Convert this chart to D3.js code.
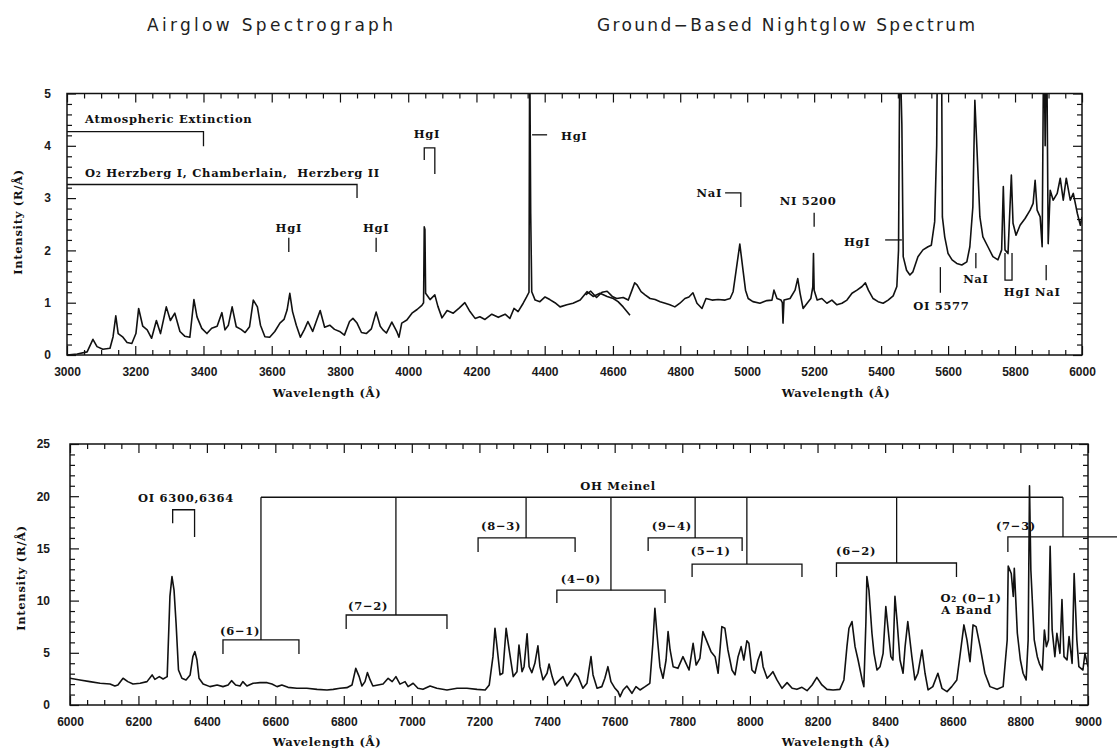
<!DOCTYPE html>
<html>
<head>
<meta charset="utf-8">
<script src="https://cdn.jsdelivr.net/npm/d3@7"></script>
<style>
  html, body { margin: 0; padding: 0; background: #fff; }
  svg { display: block; }
  .tick text { font-family: "Liberation Sans", Arial, sans-serif; font-weight: 700; font-size: 12px; fill: #1a1a1a; }
  .tick line { stroke: #111; stroke-width: 1.2; }
  .lbl { font-family: "DejaVu Serif", serif; font-weight: 700; font-size: 11.5px; letter-spacing: 0.7px; fill: #111; white-space: pre; }
  .title { font-family: "DejaVu Sans", sans-serif; font-size: 17px; fill: #222; }
</style>
</head>
<body>
<script>
// ---------- Spectra: [wavelength (Å), intensity (R/Å)] ----------
// Airglow spectrograph, 3000–4650 Å
const airglowSpectrum = [
  [3000,0.00],[3030,0.02],[3059,0.06],[3076,0.30],[3088,0.16],[3105,0.11],[3126,0.13],[3135,0.35],[3143,0.75],[3150,0.41],
  [3164,0.34],[3176,0.24],[3190,0.22],[3202,0.41],[3210,0.89],[3222,0.55],[3235,0.48],[3248,0.32],[3262,0.66],[3274,0.41],
  [3291,0.92],[3303,0.66],[3316,0.80],[3331,0.45],[3345,0.36],[3360,0.34],[3372,1.06],[3381,0.73],[3395,0.51],[3410,0.41],
  [3424,0.51],[3440,0.55],[3454,0.81],[3463,0.48],[3473,0.57],[3484,0.92],[3496,0.54],[3510,0.49],[3522,0.43],[3535,0.54],
  [3546,1.05],[3558,0.92],[3567,0.57],[3580,0.35],[3594,0.34],[3609,0.45],[3624,0.61],[3636,0.68],[3645,0.86],[3653,1.18],
  [3661,0.83],[3672,0.57],[3684,0.34],[3696,0.49],[3706,0.64],[3720,0.45],[3732,0.67],[3742,0.85],[3755,0.53],[3770,0.57],
  [3784,0.49],[3799,0.45],[3813,0.38],[3828,0.64],[3838,0.70],[3850,0.61],[3863,0.43],[3877,0.41],[3892,0.50],[3906,0.82],
  [3918,0.55],[3926,0.48],[3936,0.42],[3952,0.63],[3967,0.44],[3973,0.34],[3981,0.61],[3996,0.67],[4011,0.80],[4026,0.87],
  [4040,0.95],[4045,1.00],[4047,2.45],[4049,2.40],[4051,1.18],[4064,1.06],[4078,1.15],[4087,0.93],[4099,0.71],[4114,0.85],
  [4132,0.80],[4150,0.90],[4166,1.00],[4181,0.83],[4196,0.70],[4210,0.73],[4225,0.68],[4245,0.78],[4264,0.72],[4284,0.78],
  [4298,0.70],[4310,0.89],[4322,0.83],[4337,0.99],[4347,1.11],[4354,1.20],[4356,6.00],[4359,2.70],[4362,1.21],[4372,1.05],
  [4386,1.02],[4401,1.11],[4415,1.06],[4430,1.00],[4445,0.92],[4465,0.96],[4483,0.99],[4504,1.05],[4524,1.21],[4542,1.12],
  [4562,1.18],[4583,1.12],[4601,1.08],[4615,1.02],[4630,0.92],[4650,0.76]
];

// Ground-based nightglow, 4520–6000 Å
const groundSpectrum = [
  [4520,1.15],[4535,1.22],[4552,1.10],[4568,1.20],[4583,1.22],[4598,1.12],[4611,1.08],[4630,1.10],[4645,1.05],[4656,1.24],
  [4664,1.38],[4671,1.34],[4683,1.21],[4695,1.15],[4710,1.08],[4725,1.06],[4740,1.02],[4755,0.99],[4769,0.96],[4784,0.92],
  [4799,0.99],[4814,1.08],[4826,1.11],[4838,1.19],[4850,0.99],[4865,0.89],[4877,1.08],[4895,1.05],[4913,1.06],[4934,1.05],
  [4949,1.08],[4958,1.21],[4967,1.62],[4978,2.12],[4988,1.60],[4995,1.24],[5003,1.08],[5017,1.02],[5038,0.99],[5059,1.04],
  [5074,1.05],[5080,1.24],[5089,1.08],[5101,1.05],[5105,1.00],[5107,0.61],[5110,1.05],[5128,1.08],[5143,1.24],[5151,1.46],
  [5158,1.18],[5167,0.89],[5179,0.99],[5190,1.08],[5196,1.30],[5198,1.94],[5200,1.24],[5209,1.05],[5223,1.08],[5238,0.99],
  [5253,1.05],[5268,0.96],[5283,0.99],[5298,1.05],[5313,1.18],[5328,1.24],[5343,1.31],[5353,1.38],[5362,1.24],[5376,1.08],
  [5391,1.02],[5406,0.99],[5421,1.05],[5436,1.13],[5447,1.31],[5452,2.00],[5456,6.00],[5462,4.40],[5466,1.88],[5476,1.62],
  [5486,1.53],[5495,1.59],[5510,1.88],[5525,2.01],[5540,2.07],[5550,2.10],[5560,2.55],[5566,4.00],[5569,6.50],[5580,6.50],
  [5583,2.64],[5590,2.26],[5600,1.94],[5612,1.82],[5626,1.75],[5641,1.72],[5656,1.78],[5665,2.07],[5674,2.83],[5680,4.87],
  [5686,3.98],[5695,2.64],[5704,2.26],[5719,2.07],[5734,1.88],[5749,1.82],[5760,2.01],[5765,3.22],[5770,2.01],[5779,1.94],
  [5789,3.44],[5794,2.52],[5803,2.29],[5815,2.48],[5830,2.61],[5845,2.77],[5854,2.90],[5860,3.34],[5866,2.77],[5875,2.64],
  [5881,2.07],[5886,6.50],[5890,4.00],[5894,6.50],[5899,2.13],[5905,3.15],[5914,2.96],[5926,3.09],[5935,3.38],[5944,2.96],
  [5953,3.38],[5965,2.96],[5974,3.09],[5986,2.71],[5995,2.48],[6000,2.64]
];

// Red / near-infrared nightglow, 6000–9000 Å
const redSpectrum = [
  [6000,2.56],[6029,2.40],[6058,2.24],[6088,2.08],[6117,2.01],[6131,1.82],[6140,1.92],[6155,2.56],[6169,2.24],[6184,2.01],
  [6205,2.08],[6225,2.24],[6240,2.88],[6248,2.46],[6261,2.72],[6272,2.49],[6284,2.72],[6292,10.4],[6298,12.3],[6304,11.0],
  [6310,7.8],[6317,3.35],[6327,2.56],[6339,2.40],[6351,2.88],[6359,4.63],[6365,5.11],[6371,4.31],[6377,2.56],[6389,2.01],
  [6409,1.76],[6430,1.92],[6447,1.76],[6462,1.92],[6472,2.33],[6484,1.92],[6497,1.82],[6505,2.24],[6517,1.82],[6535,2.08],
  [6555,2.14],[6576,2.14],[6590,2.01],[6605,1.76],[6619,1.92],[6637,1.69],[6663,1.60],[6692,1.60],[6722,1.50],[6751,1.44],
  [6769,1.50],[6789,1.60],[6809,1.66],[6824,1.92],[6835,3.51],[6845,2.72],[6853,1.82],[6862,2.24],[6869,3.10],[6877,2.40],
  [6885,1.82],[6900,1.92],[6915,2.01],[6930,2.56],[6942,2.24],[6953,2.72],[6965,2.00],[6980,2.24],[6989,1.76],[7004,2.08],
  [7018,1.60],[7033,1.50],[7054,1.82],[7074,1.60],[7104,1.44],[7134,1.60],[7163,1.60],[7193,1.50],[7217,1.44],[7229,1.92],
  [7240,4.63],[7246,7.35],[7252,5.59],[7261,2.88],[7269,3.04],[7279,7.35],[7288,5.27],[7300,2.72],[7311,3.19],[7317,5.75],
  [7326,3.19],[7332,3.67],[7341,6.81],[7347,3.67],[7355,3.10],[7364,3.99],[7373,5.66],[7379,3.67],[7388,2.40],[7400,3.04],
  [7406,3.93],[7415,2.72],[7423,1.92],[7432,2.24],[7447,2.72],[7459,1.82],[7471,2.40],[7483,3.04],[7492,2.72],[7506,1.60],
  [7518,2.08],[7530,4.63],[7536,2.88],[7548,1.60],[7562,1.76],[7571,2.56],[7580,3.67],[7589,2.24],[7601,1.60],[7610,1.28],
  [7616,0.80],[7625,1.44],[7636,1.82],[7651,1.12],[7663,1.76],[7675,1.44],[7690,1.76],[7704,2.08],[7713,5.91],[7719,9.27],
  [7725,6.87],[7734,3.67],[7743,2.56],[7752,4.31],[7758,7.03],[7764,5.27],[7773,3.67],[7787,3.51],[7802,4.63],[7811,3.99],
  [7820,3.35],[7832,5.91],[7841,3.83],[7852,4.47],[7861,7.03],[7873,6.07],[7885,5.11],[7897,4.63],[7906,3.04],[7917,7.51],
  [7926,7.35],[7935,5.27],[7947,3.35],[7956,2.88],[7965,4.63],[7974,5.59],[7982,4.31],[7991,6.15],[7997,5.91],[8006,3.35],
  [8015,3.04],[8024,4.31],[8033,5.11],[8039,3.67],[8051,2.56],[8060,2.88],[8068,3.19],[8080,2.40],[8095,1.60],[8110,2.14],
  [8125,1.60],[8139,1.50],[8154,1.69],[8169,1.37],[8184,1.92],[8198,2.65],[8213,1.92],[8228,1.50],[8246,1.44],[8266,1.50],
  [8278,2.40],[8287,5.59],[8293,7.35],[8302,7.99],[8311,5.59],[8320,4.31],[8332,2.40],[8337,1.76],[8343,7.83],[8346,12.3],
  [8352,11.0],[8361,6.87],[8367,4.95],[8376,3.35],[8385,3.67],[8394,4.95],[8402,9.42],[8408,7.51],[8417,4.63],[8423,4.31],
  [8429,10.4],[8435,8.15],[8444,4.31],[8453,3.04],[8459,5.59],[8467,7.99],[8479,4.63],[8488,2.40],[8497,3.04],[8509,5.27],
  [8518,3.04],[8527,1.44],[8541,1.76],[8556,3.04],[8568,1.60],[8583,1.28],[8597,1.76],[8612,2.40],[8621,4.63],[8633,7.67],
  [8642,6.23],[8651,4.15],[8660,7.67],[8669,7.51],[8681,5.59],[8695,3.04],[8710,1.76],[8731,1.50],[8749,1.76],[8761,6.23],
  [8764,13.3],[8773,12.6],[8779,10.4],[8782,13.1],[8791,6.87],[8800,4.31],[8808,3.04],[8817,2.40],[8823,6.23],[8827,21.0],
  [8831,12.9],[8841,6.23],[8850,4.63],[8856,3.99],[8865,3.35],[8871,7.19],[8877,5.59],[8883,6.23],[8888,15.2],[8894,7.19],
  [8902,4.63],[8908,6.87],[8917,4.95],[8923,10.1],[8929,4.63],[8938,4.31],[8944,6.55],[8953,3.99],[8959,12.6],[8967,6.23],
  [8973,3.67],[8985,3.35],[8991,4.95],[9000,3.67]
];

// ---------- Tick labels ----------
const topWaveTicks = [3000,3200,3400,3600,3800,4000,4200,4400,4600,4800,5000,5200,5400,5600,5800,6000];
const topIntensityTicks = [0,1,2,3,4,5];
const bottomWaveTicks = [6000,6200,6400,6600,6800,7000,7200,7400,7600,7800,8000,8200,8400,8600,8800,9000];
const bottomIntensityTicks = [0,5,10,15,20,25];

// ---------- Line identifications (wavelength, intensity) ----------
const topMarkers = [
  { text: "Atmospheric Extinction", at: [3053, 4.44], anchor: "start", path: [[3000,4.27],[3400,4.27],[3400,3.99]] },
  { text: "O\u2082 Herzberg I, Chamberlain,  Herzberg II", at: [3053, 3.40], anchor: "start", path: [[3000,3.26],[3850,3.26],[3850,3.00]] },
  { text: "HgI", at: [3650, 2.35], anchor: "middle", path: [[3650,2.24],[3650,1.97]] },
  { text: "HgI", at: [3906, 2.35], anchor: "middle", path: [[3906,2.24],[3906,1.97]] },
  { text: "HgI", at: [4055, 4.15], anchor: "middle", path: [[4047,3.73],[4047,3.96],[4078,3.96],[4078,3.46]] },
  { text: "HgI", at: [4448, 4.11], anchor: "start", path: [[4363,4.21],[4407,4.21]] },
  { text: "NaI", at: [4925, 3.02], anchor: "end", path: [[4934,3.10],[4981,3.10],[4981,2.83]] },
  { text: "NI 5200", at: [5182, 2.87], anchor: "middle", path: [[5200,2.72],[5200,2.45]] },
  { text: "HgI", at: [5368, 2.08], anchor: "end", path: [[5412,2.20],[5462,2.20]] },
  { text: "OI 5577", at: [5580, 0.86], anchor: "middle", path: [[5577,1.68],[5577,1.19]] },
  { text: "NaI", at: [5683, 1.38], anchor: "middle", path: [[5683,1.95],[5683,1.66]] },
  { text: "HgI", at: [5806, 1.13], anchor: "middle", path: [[5770,1.95],[5770,1.43],[5791,1.43],[5791,1.95]] },
  { text: "NaI", at: [5898, 1.13], anchor: "middle", path: [[5893,1.72],[5893,1.43]] }
];

const oiMarker = { text: "OI 6300,6364", at: [6339, 19.4], path: [[6300,17.4],[6300,18.7],[6364,18.7],[6364,16.1]] };

const meinel = { text: "OH Meinel", at: [7610, 20.6], level: 19.9, from: 6558, to: 8926 };

const ohBands = [
  { name: "(6\u22121)", lo: 6447, hi: 6669, mid: 6558, level: 6.23,  foot: 4.89,  at: [6497, 6.7] },
  { name: "(7\u22122)", lo: 6807, hi: 7104, mid: 6953, level: 8.62,  foot: 7.28,  at: [6871, 9.1] },
  { name: "(8\u22123)", lo: 7196, hi: 7483, mid: 7338, level: 16.0,  foot: 14.65, at: [7264, 16.8] },
  { name: "(4\u22120)", lo: 7429, hi: 7749, mid: 7589, level: 11.0,  foot: 9.77,  at: [7500, 11.7] },
  { name: "(9\u22124)", lo: 7699, hi: 7977, mid: 7838, level: 16.0,  foot: 14.75, at: [7769, 16.8] },
  { name: "(5\u22121)", lo: 7829, hi: 8154, mid: 7991, level: 13.5,  foot: 12.26, at: [7884, 14.4] },
  { name: "(6\u22122)", lo: 8256, hi: 8611, mid: 8434, level: 13.6,  foot: 12.26, at: [8314, 14.4] },
  { name: "(7\u22123)", lo: 8763, hi: 9097, mid: 8926, level: 16.1,  foot: 14.65, at: [8787, 16.8], open: true }
];

const o2Band = { lines: ["O\u2082 (0\u22121)", "A Band"], at: [[8564, 9.87], [8566, 8.72]] };

// ---------- Page ----------
const W = 1117, H = 753;
const svg = d3.select("body").append("svg").attr("width", W).attr("height", H);
svg.append("rect").attr("width", W).attr("height", H).attr("fill", "#fff");

// Scales (each panel joins two separately calibrated spectra)
const topX = d3.scaleLinear().domain([3000, 4650, 6000]).range([67, 630, 1082]);
const topY = d3.scaleLinear().domain([0, 5]).range([355, 93.5]);
const botX = d3.scaleLinear().domain([6000, 6900, 9000]).range([70, 378, 1088]);
const botY = d3.scaleLinear().domain([0, 25]).range([705, 444]);

function drawFrame(g, x, y, xMajor, xStep, yMajor, yStep, yPad) {
  const xr = x.range(), left = xr[0], right = xr[xr.length - 1];
  const bottom = y.range()[0], top = y.range()[1];
  const xd = x.domain(), yd = y.domain();
  const xMinor = d3.range(xd[0], xd[xd.length - 1] + 1, xStep).filter(v => !xMajor.includes(v));
  const yMinor = d3.range(yd[0], yd[1] + 1e-9, yStep).map(v => +v.toFixed(3)).filter(v => !yMajor.includes(v));

  const add = (tr, axis) => g.append("g").attr("transform", tr).call(axis).call(s => s.select(".domain").remove());

  add(`translate(0,${bottom})`, d3.axisBottom(x).tickValues(xMajor).tickSize(-9).tickPadding(12).tickFormat(d3.format("d")));
  add(`translate(0,${bottom})`, d3.axisBottom(x).tickValues(xMinor).tickSize(-5).tickFormat(""));
  add(`translate(0,${top})`, d3.axisTop(x).tickValues(xMajor).tickSize(-9).tickFormat(""));
  add(`translate(0,${top})`, d3.axisTop(x).tickValues(xMinor).tickSize(-5).tickFormat(""));
  add(`translate(${left},0)`, d3.axisLeft(y).tickValues(yMajor).tickSize(-9).tickPadding(yPad).tickFormat(d3.format("d")));
  add(`translate(${left},0)`, d3.axisLeft(y).tickValues(yMinor).tickSize(-5).tickFormat(""));
  add(`translate(${right},0)`, d3.axisRight(y).tickValues(yMajor).tickSize(-9).tickFormat(""));
  add(`translate(${right},0)`, d3.axisRight(y).tickValues(yMinor).tickSize(-5).tickFormat(""));

  g.append("rect")
    .attr("x", left).attr("y", top).attr("width", right - left).attr("height", bottom - top)
    .attr("fill", "none").attr("stroke", "#111").attr("stroke-width", 1.5);
}

function drawSpectrum(g, x, y, data, clipId) {
  const line = d3.line().x(d => x(d[0])).y(d => y(d[1]));
  g.append("path").datum(data)
    .attr("d", line)
    .attr("clip-path", `url(#${clipId})`)
    .attr("fill", "none").attr("stroke", "#111").attr("stroke-width", 1.6)
    .attr("stroke-linejoin", "round");
}

function addClip(id, x, y) {
  const xr = x.range();
  svg.append("clipPath").attr("id", id).append("rect")
    .attr("x", xr[0]).attr("y", y.range()[1])
    .attr("width", xr[xr.length - 1] - xr[0]).attr("height", y.range()[0] - y.range()[1]);
}

function bracket(g, x, y, pts) {
  g.append("path")
    .attr("d", d3.line().x(d => x(d[0])).y(d => y(d[1]))(pts))
    .attr("fill", "none").attr("stroke", "#111").attr("stroke-width", 1.3);
}

function label(g, x, y, text, at, anchor) {
  g.append("text").attr("class", "lbl")
    .attr("x", x(at[0])).attr("y", y(at[1]))
    .attr("text-anchor", anchor || "middle")
    .text(text);
}

// Titles
svg.append("text").attr("class", "title").attr("x", 147).attr("y", 31)
  .attr("textLength", 246).attr("lengthAdjust", "spacing").text("Airglow Spectrograph");
svg.append("text").attr("class", "title").attr("x", 597).attr("y", 31)
  .attr("textLength", 378).attr("lengthAdjust", "spacing").text("Ground\u2212Based Nightglow Spectrum");

// ----- Upper panel -----
addClip("clipTop", topX, topY);
const gTop = svg.append("g");
drawFrame(gTop, topX, topY, topWaveTicks, 50, topIntensityTicks, 0.2, 16);
drawSpectrum(gTop, topX, topY, airglowSpectrum, "clipTop");
drawSpectrum(gTop, topX, topY, groundSpectrum, "clipTop");
topMarkers.forEach(m => {
  bracket(gTop, topX, topY, m.path);
  label(gTop, topX, topY, m.text, m.at, m.anchor);
});

// ----- Lower panel -----
addClip("clipBot", botX, botY);
const gBot = svg.append("g");
drawFrame(gBot, botX, botY, bottomWaveTicks, 50, bottomIntensityTicks, 1, 20);
drawSpectrum(gBot, botX, botY, redSpectrum, "clipBot");

bracket(gBot, botX, botY, oiMarker.path);
label(gBot, botX, botY, oiMarker.text, oiMarker.at, "middle");

bracket(gBot, botX, botY, [[meinel.from, meinel.level], [meinel.to, meinel.level]]);
label(gBot, botX, botY, meinel.text, meinel.at, "middle");

ohBands.forEach(b => {
  const pts = b.open
    ? [[b.lo, b.foot], [b.lo, b.level], [b.hi, b.level]]
    : [[b.lo, b.foot], [b.lo, b.level], [b.hi, b.level], [b.hi, b.foot]];
  bracket(gBot, botX, botY, pts);
  bracket(gBot, botX, botY, [[b.mid, meinel.level], [b.mid, b.level]]);
  label(gBot, botX, botY, b.name, b.at, "middle");
});

o2Band.lines.forEach((t, i) => label(gBot, botX, botY, t, o2Band.at[i], "start"));

// Axis titles
const axisTitles = [
  { t: "Wavelength (\u00c5)", x: 327, y: 397 },
  { t: "Wavelength (\u00c5)", x: 836, y: 397 },
  { t: "Wavelength (\u00c5)", x: 327, y: 746 },
  { t: "Wavelength (\u00c5)", x: 836, y: 746 }
];
axisTitles.forEach(a => svg.append("text").attr("class", "lbl")
  .attr("x", a.x).attr("y", a.y).attr("text-anchor", "middle").text(a.t));

[[22, 222], [25, 578]].forEach(([px, py]) => svg.append("text").attr("class", "lbl")
  .attr("transform", `translate(${px},${py}) rotate(-90)`)
  .attr("text-anchor", "middle").text("Intensity (R/\u00c5)"));
</script>
</body>
</html>
